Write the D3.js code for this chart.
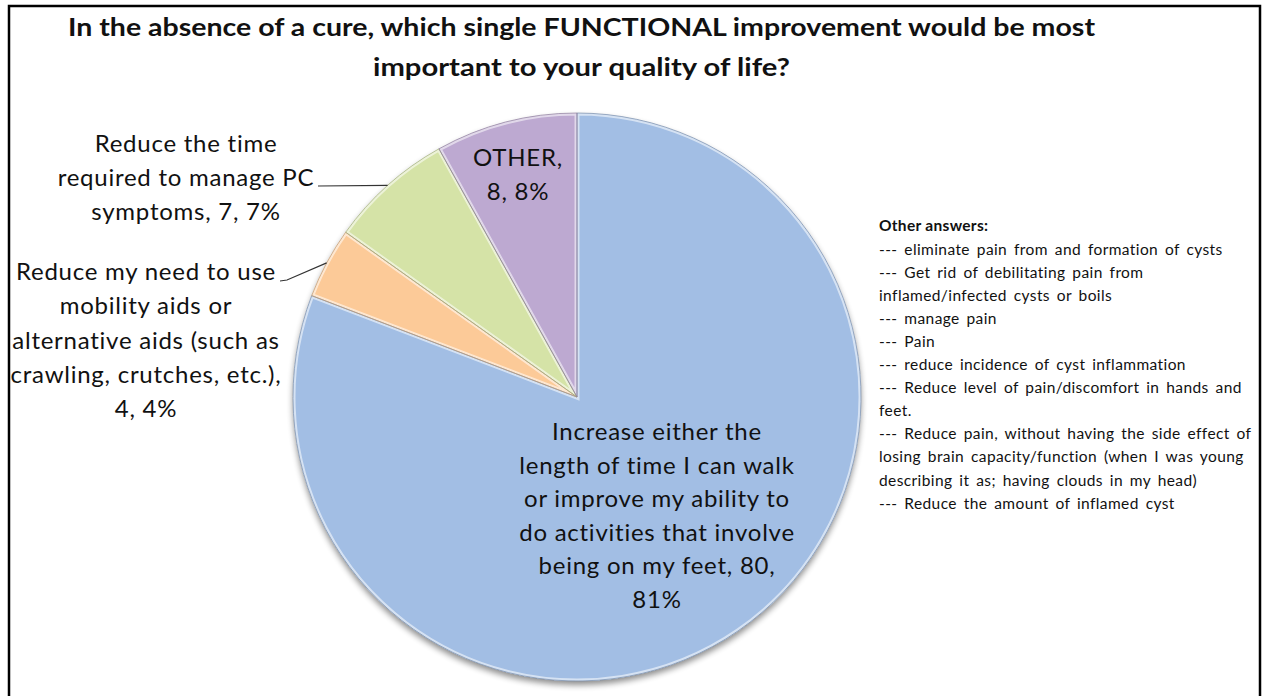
<!DOCTYPE html>
<html>
<head>
<meta charset="utf-8">
<script src="https://cdn.jsdelivr.net/npm/d3@7"></script>
<style>
  html, body { margin: 0; padding: 0; background: #fff; }
  svg { display: block; }
  text { font-family: Lato, "Open Sans", sans-serif; fill: #111; }
</style>
</head>
<body>
<div id="chart"></div>
<script>
// ---------- data ----------
const titleLines = [
  "In the absence of a cure, which single FUNCTIONAL improvement would be most",
  "important to your quality of life?"
];
const categories = [
  "Increase either the length of time I can walk or improve my ability to do activities that involve being on my feet",
  "Reduce my need to use mobility aids or alternative aids (such as crawling, crutches, etc.)",
  "Reduce the time required to manage PC symptoms",
  "OTHER"
];
const values = [80, 4, 7, 8];
const labelLines = [
  ["Increase either the", "length of time I can walk", "or improve my ability to", "do activities that involve", "being on my feet, 80,", "81%"],
  ["Reduce my need to use", "mobility aids or", "alternative aids (such as", "crawling, crutches, etc.),", "4, 4%"],
  ["Reduce the time", "required to manage PC", "symptoms, 7, 7%"],
  ["OTHER,", "8, 8%"]
];
const colors = ["#A2BEE4", "#FCCA98", "#D5E3A7", "#BDA9D1"];
const otherTitle = "Other answers:";
const otherAnswers = [
  "--- eliminate pain from and formation of cysts",
  "--- Get rid of debilitating pain from",
  "inflamed/infected cysts or boils",
  "--- manage pain",
  "--- Pain",
  "--- reduce incidence of cyst inflammation",
  "--- Reduce level of pain/discomfort in hands and",
  "feet.",
  "--- Reduce pain, without having the side effect of",
  "losing brain capacity/function (when I was young",
  "describing it as; having clouds in my head)",
  "--- Reduce the amount of inflamed cyst"
];

// ---------- layout ----------
const W = 1262, H = 696;
const cx = 577, cy = 397, R = 284;

const svg = d3.select("#chart").append("svg").attr("width", W).attr("height", H);
const defs = svg.append("defs");

// drop shadow
const sh = defs.append("filter").attr("id", "shadow").attr("x", "-10%").attr("y", "-10%").attr("width", "120%").attr("height", "125%");
sh.append("feGaussianBlur").attr("in", "SourceAlpha").attr("stdDeviation", 3).attr("result", "b");
sh.append("feOffset").attr("in", "b").attr("dx", 0).attr("dy", 4).attr("result", "o");
sh.append("feComponentTransfer").attr("in", "o").attr("result", "s")
  .append("feFuncA").attr("type", "linear").attr("slope", 0.45);
const m = sh.append("feMerge");
m.append("feMergeNode").attr("in", "s");
m.append("feMergeNode").attr("in", "SourceGraphic");

// frame
svg.append("rect").attr("x", 9).attr("y", 6).attr("width", 1251).attr("height", 720)
  .attr("fill", "none").attr("stroke", "#000").attr("stroke-width", 2.5);

// title
const title = svg.append("g");
const titleY = [36, 76];
const titleW = [1027, 417];
titleLines.forEach((t, i) => {
  title.append("text").attr("x", 581.5).attr("y", titleY[i])
    .attr("text-anchor", "middle").attr("font-weight", "bold").attr("font-size", 25.5)
    .attr("textLength", titleW[i]).attr("lengthAdjust", "spacingAndGlyphs")
    .text(t);
});

// pie
const pie = d3.pie().sort(null).value(d => d).startAngle(0).endAngle(2 * Math.PI);
const arcs = pie(values);
const arc = d3.arc().innerRadius(0).outerRadius(R);

const gPie = svg.append("g").attr("transform", `translate(${cx},${cy})`);
const gShadow = gPie.append("g").attr("filter", "url(#shadow)");
arcs.forEach((a, i) => {
  defs.append("clipPath").attr("id", "clip" + i).append("path").attr("d", arc(a));
});
gShadow.selectAll("path.slice").data(arcs).join("path")
  .attr("class", "slice")
  .attr("d", arc)
  .attr("fill", (d, i) => colors[i]);
// bevel highlight (inner light edge)
gPie.selectAll("path.hl").data(arcs).join("path")
  .attr("class", "hl")
  .attr("d", arc)
  .attr("clip-path", (d, i) => `url(#clip${i})`)
  .attr("fill", "none")
  .attr("stroke", "#fff").attr("stroke-opacity", 0.55).attr("stroke-width", 5);
// darker thin edge
gPie.selectAll("path.edge").data(arcs).join("path")
  .attr("class", "edge")
  .attr("d", arc)
  .attr("fill", "none")
  .attr("stroke", (d, i) => d3.color(colors[i]).darker(0.8))
  .attr("stroke-opacity", 0.7).attr("stroke-width", 1);

// labels
const labelPos = [
  {x: 657, y: 440, anchor: "middle"},
  {x: 146, y: 280, anchor: "middle"},
  {x: 186, y: 152, anchor: "middle"},
  {x: 518, y: 166, anchor: "middle"}
];
const lineH = [33.5, 34.3, 34, 34];
const labels = svg.append("g");
labelLines.forEach((lines, i) => {
  const t = labels.append("text").attr("font-size", 24).attr("letter-spacing", 0.75)
    .attr("text-anchor", labelPos[i].anchor);
  lines.forEach((ln, j) => {
    t.append("tspan").attr("x", labelPos[i].x).attr("y", labelPos[i].y + j * lineH[i]).text(ln);
  });
});

// leader lines: from label to mid-point of slice on the outer edge
const edgePt = a => {
  const ang = (a.startAngle + a.endAngle) / 2;
  return [cx + R * Math.sin(ang), cy - R * Math.cos(ang)];
};
const leaders = [
  {i: 1, pts: [[280, 281], [287, 280]]},
  {i: 2, pts: [[318, 186]]}
];
leaders.forEach(l => {
  const pts = l.pts.concat([edgePt(arcs[l.i])]);
  svg.append("path").attr("d", d3.line()(pts))
    .attr("fill", "none").attr("stroke", "#333").attr("stroke-width", 1.1);
});

// other answers block
const other = svg.append("g");
other.append("text").attr("x", 879).attr("y", 231).attr("font-size", 15.5)
  .attr("letter-spacing", 0.3).attr("font-weight", "bold").text(otherTitle);
otherAnswers.forEach((t, j) => {
  other.append("text").attr("x", 879).attr("y", 255 + j * 23.05).attr("font-size", 15.5)
    .attr("letter-spacing", 0.4).attr("word-spacing", 2.5).text(t);
});
</script>
</body>
</html>
